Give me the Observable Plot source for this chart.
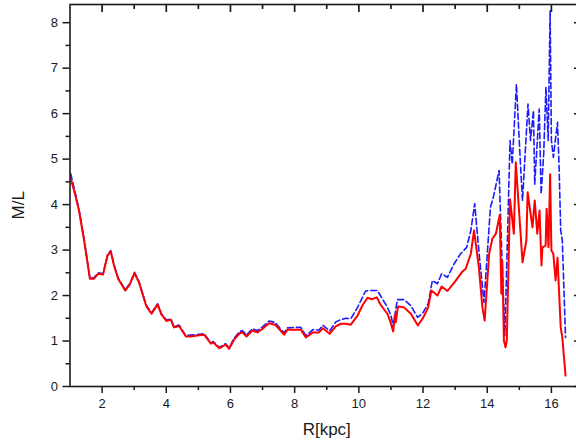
<!DOCTYPE html>
<html><head><meta charset="utf-8">
<script src="https://cdn.jsdelivr.net/npm/d3@7"></script>
<script src="https://cdn.jsdelivr.net/npm/@observablehq/plot@0.6"></script>
<style>html,body{margin:0;padding:0;background:#fff;overflow:hidden;width:576px;height:447px}</style>
</head><body><div id="chart"></div>
<script>
// Red (solid) series
const rRed = [1.02,1.05,1.15,1.28,1.44,1.62,1.75,1.88,2.03,2.17,2.27,2.37,2.50,2.72,2.86,3.01,3.15,3.38,3.54,3.67,3.73,3.85,4.01,4.14,4.24,4.40,4.61,4.76,4.97,5.18,5.39,5.46,5.65,5.85,5.96,6.11,6.29,6.37,6.50,6.68,6.84,7.00,7.20,7.39,7.51,7.67,7.78,8.03,8.19,8.35,8.57,8.76,8.88,9.09,9.28,9.44,9.59,9.75,9.96,10.11,10.27,10.40,10.56,10.66,10.77,10.89,10.97,11.07,11.12,11.15,11.22,11.41,11.62,11.84,12.01,12.16,12.26,12.45,12.58,12.76,13.02,13.23,13.33,13.49,13.59,13.74,13.85,13.92,14.06,14.16,14.27,14.39,14.44,14.47,14.52,14.57,14.61,14.71,14.83,14.89,15.10,15.22,15.26,15.41,15.48,15.56,15.63,15.69,15.72,15.82,15.85,15.91,15.96,16.00,16.06,16.13,16.19,16.29,16.34,16.44];
const mlRed = [4.58,4.50,4.25,3.87,3.21,2.37,2.37,2.48,2.46,2.88,2.97,2.66,2.37,2.11,2.24,2.49,2.29,1.76,1.60,1.74,1.80,1.58,1.44,1.47,1.30,1.33,1.10,1.10,1.12,1.14,0.94,0.97,0.84,0.92,0.83,1.03,1.17,1.19,1.10,1.23,1.19,1.27,1.39,1.36,1.27,1.14,1.25,1.25,1.25,1.08,1.19,1.19,1.28,1.16,1.32,1.38,1.38,1.36,1.56,1.78,1.95,1.92,1.96,1.82,1.71,1.60,1.45,1.21,1.56,1.41,1.76,1.74,1.60,1.34,1.52,1.74,2.11,2.00,2.20,2.10,2.33,2.53,2.59,2.92,3.43,2.62,1.74,1.45,2.92,3.25,3.36,3.77,2.04,2.77,1.01,0.86,1.01,4.12,3.36,4.93,2.73,3.21,4.27,3.50,4.09,3.36,3.87,2.66,3.06,3.10,3.91,3.06,4.67,2.99,2.92,2.33,2.83,1.30,1.08,0.24];

// Blue (dashed) series
const rBlue = [1.02,1.15,1.28,1.44,1.62,1.75,1.88,2.03,2.17,2.27,2.37,2.50,2.72,2.86,3.01,3.15,3.38,3.54,3.67,3.73,3.85,4.01,4.14,4.24,4.40,4.61,4.76,4.97,5.18,5.39,5.46,5.65,5.85,5.96,6.11,6.29,6.37,6.50,6.68,6.84,7.00,7.20,7.39,7.51,7.67,7.78,8.03,8.19,8.35,8.57,8.76,8.88,9.09,9.28,9.44,9.59,9.75,9.96,10.21,10.37,10.58,10.73,10.89,11.00,11.07,11.20,11.41,11.62,11.83,11.98,12.16,12.29,12.45,12.58,12.76,12.97,13.17,13.36,13.49,13.61,13.75,13.90,14.10,14.19,14.37,14.45,14.55,14.64,14.71,14.78,14.91,15.04,15.10,15.27,15.35,15.44,15.48,15.62,15.68,15.76,15.83,15.90,15.96,16.00,16.06,16.19,16.24,16.29,16.34,16.44];
const mlBlue = [4.68,4.30,3.90,3.24,2.39,2.39,2.50,2.48,2.90,2.99,2.68,2.39,2.13,2.26,2.51,2.31,1.78,1.62,1.76,1.82,1.60,1.46,1.49,1.32,1.35,1.12,1.13,1.14,1.16,0.96,0.99,0.86,0.94,0.85,1.06,1.21,1.23,1.13,1.27,1.23,1.31,1.44,1.41,1.31,1.18,1.29,1.30,1.30,1.12,1.25,1.24,1.35,1.22,1.42,1.47,1.50,1.49,1.74,2.10,2.11,2.11,1.93,1.74,1.56,1.34,1.91,1.91,1.78,1.52,1.60,1.82,2.33,2.26,2.48,2.40,2.70,2.92,3.06,3.43,4.02,2.90,1.85,3.94,4.16,4.75,3.00,1.12,3.50,5.41,4.89,6.65,4.82,4.09,6.21,5.41,6.07,4.45,6.10,4.23,5.11,6.58,5.41,8.26,5.41,5.04,5.81,4.82,3.43,3.21,1.08];

// Scale domains, ticks and labels
const xDomain = [1, 17];
const yDomain = [0, 8.4];
const xMajor = [2,4,6,8,10,12,14,16];
const xMinor = [3,5,7,9,11,13,15];
const yMajor = [0,1,2,3,4,5,6,7,8];
const yMinor = [0.5,1.5,2.5,3.5,4.5,5.5,6.5,7.5];
const xTitle = "R[kpc]";
const yTitle = "M/L";

const red = rRed.map((r, i) => ({r, ml: mlRed[i]}));
const blue = rBlue.map((r, i) => ({r, ml: mlBlue[i]}));

const ink = "#1a1a1a";
const font = "'Liberation Sans', Arial, sans-serif";
const yTop = yDomain[1];
const xRight = xDomain[1];

const plot = Plot.plot({
  width: 583, height: 447,
  marginLeft: 69.5, marginRight: 0, marginTop: 4, marginBottom: 61,
  x: {domain: xDomain},
  y: {domain: yDomain},
  style: {fontFamily: font, fontSize: "13px", color: ink, background: "white", maxWidth: "none"},
  marks: [
    Plot.lineY(blue, {x: "r", y: "ml", stroke: "#1c1cff", strokeWidth: 1.6, strokeDasharray: "6,3"}),
    Plot.lineY(red, {x: "r", y: "ml", stroke: "#ff0000", strokeWidth: 2}),
    Plot.frame({stroke: ink, strokeWidth: 1.6}),
    // bottom axis
    Plot.axisX(xMajor, {anchor: "bottom", tickSize: 7, tickPadding: 5, stroke: ink, strokeWidth: 1.5, label: null, fontSize: 13}),
    Plot.axisX(xMinor, {anchor: "bottom", tickSize: 4, stroke: ink, strokeWidth: 1.5, fill: "none", label: null}),
    // top inward ticks
    Plot.ruleX(xMajor, {x: d => d, y1: yTop, y2: yTop, insetBottom: -8, stroke: ink, strokeWidth: 1.7}),
    Plot.ruleX(xMinor, {x: d => d, y1: yTop, y2: yTop, insetBottom: -5, stroke: ink, strokeWidth: 1.7}),
    // left axis
    Plot.axisY(yMajor, {anchor: "left", tickSize: 7, tickPadding: 5, stroke: ink, strokeWidth: 1.5, label: null, fontSize: 13}),
    Plot.axisY(yMinor, {anchor: "left", tickSize: 4, stroke: ink, strokeWidth: 1.5, fill: "none", label: null}),
    // right inward ticks
    Plot.ruleY(yMajor, {y: d => d, x1: xRight, x2: xRight, insetLeft: -9, stroke: ink, strokeWidth: 1.5}),
    // axis titles
    Plot.text([xTitle], {frameAnchor: "bottom", lineAnchor: "top", dy: 36, fontSize: 17, fill: ink}),
    Plot.text([yTitle], {frameAnchor: "left", rotate: -90, dx: -51.5, dy: 24, fontSize: 17, fill: ink})
  ]
});
document.getElementById("chart").appendChild(plot);
</script>
</body></html>
